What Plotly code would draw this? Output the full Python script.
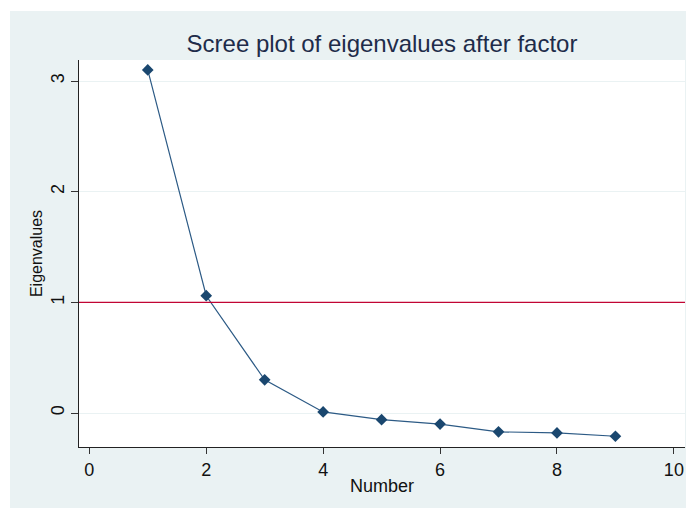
import plotly.graph_objects as go

numbers = [1, 2, 3, 4, 5, 6, 7, 8, 9]
eigenvalues = [3.10, 1.06, 0.30, 0.01, -0.06, -0.10, -0.17, -0.18, -0.21]
x_ticks = [0, 2, 4, 6, 8, 10]
y_ticks = [0, 1, 2, 3]
ref_value = 1

# page body adds an 8px offset; figure is sized to the visible area
W, H = 686, 500
L, R, T, B = 71, 9, 52, 61
pw, ph = W - L - R, H - T - B
bg = "#EAF2F3"
font = "Liberation Sans, Arial, sans-serif"

fig = go.Figure()
fig.add_trace(go.Scatter(
    x=numbers, y=eigenvalues, mode="lines+markers",
    line=dict(color="#2C5A85", width=1.2),
    marker=dict(symbol="diamond", size=9, color="#1A476F", line=dict(width=0)),
    showlegend=False, hoverinfo="x+y",
))

# Graph region background (Stata-like)
fig.add_shape(type="rect", xref="paper", yref="paper",
              x0=(2 - L) / pw, x1=(W - L) / pw,
              y0=-B / ph, y1=(H - B - 3) / ph,
              fillcolor=bg, line=dict(width=0), layer="below")
# Plot region white
fig.add_shape(type="rect", xref="paper", yref="paper", x0=0, x1=1, y0=0, y1=1,
              fillcolor="white", line=dict(width=0), layer="below")
# Reference line
fig.add_shape(type="line", xref="paper", yref="y", x0=0, x1=1, y0=ref_value, y1=ref_value,
              line=dict(color="#C10534", width=1.2), layer="above")

fig.update_layout(
    width=W, height=H,
    margin=dict(l=L, r=R, t=T, b=B),
    paper_bgcolor="white", plot_bgcolor="white",
    font=dict(family=font, color="#111111"),
    title=dict(text="Scree plot of eigenvalues after factor",
               x=(L + pw / 2) / W, xanchor="center", xref="container",
               y=1 - 36 / H, yanchor="middle", yref="container",
               font=dict(size=24, color="#1E2C4A", family=font)),
)
fig.update_xaxes(
    range=[-0.176, 10.19], tickvals=x_ticks, ticks="outside", ticklen=6,
    tickcolor="#333333", tickwidth=1.2, showgrid=False, zeroline=False,
    showline=True, linecolor="#222222", linewidth=1.3,
    tickfont=dict(size=18), ticklabelstandoff=0,
    title=dict(text="Number", font=dict(size=18), standoff=0),
)
fig.update_yaxes(
    range=[-0.307, 3.19], tickvals=y_ticks, ticks="outside", ticklen=7,
    tickcolor="#333333", tickwidth=1.2, showgrid=True, gridcolor=bg, gridwidth=1,
    zeroline=False, showline=True, linecolor="#222222", linewidth=1.3,
    tickangle=-90, tickfont=dict(size=18),
    title=dict(text="Eigenvalues", font=dict(size=16), standoff=1),
)

fig.write_html("out.html")
